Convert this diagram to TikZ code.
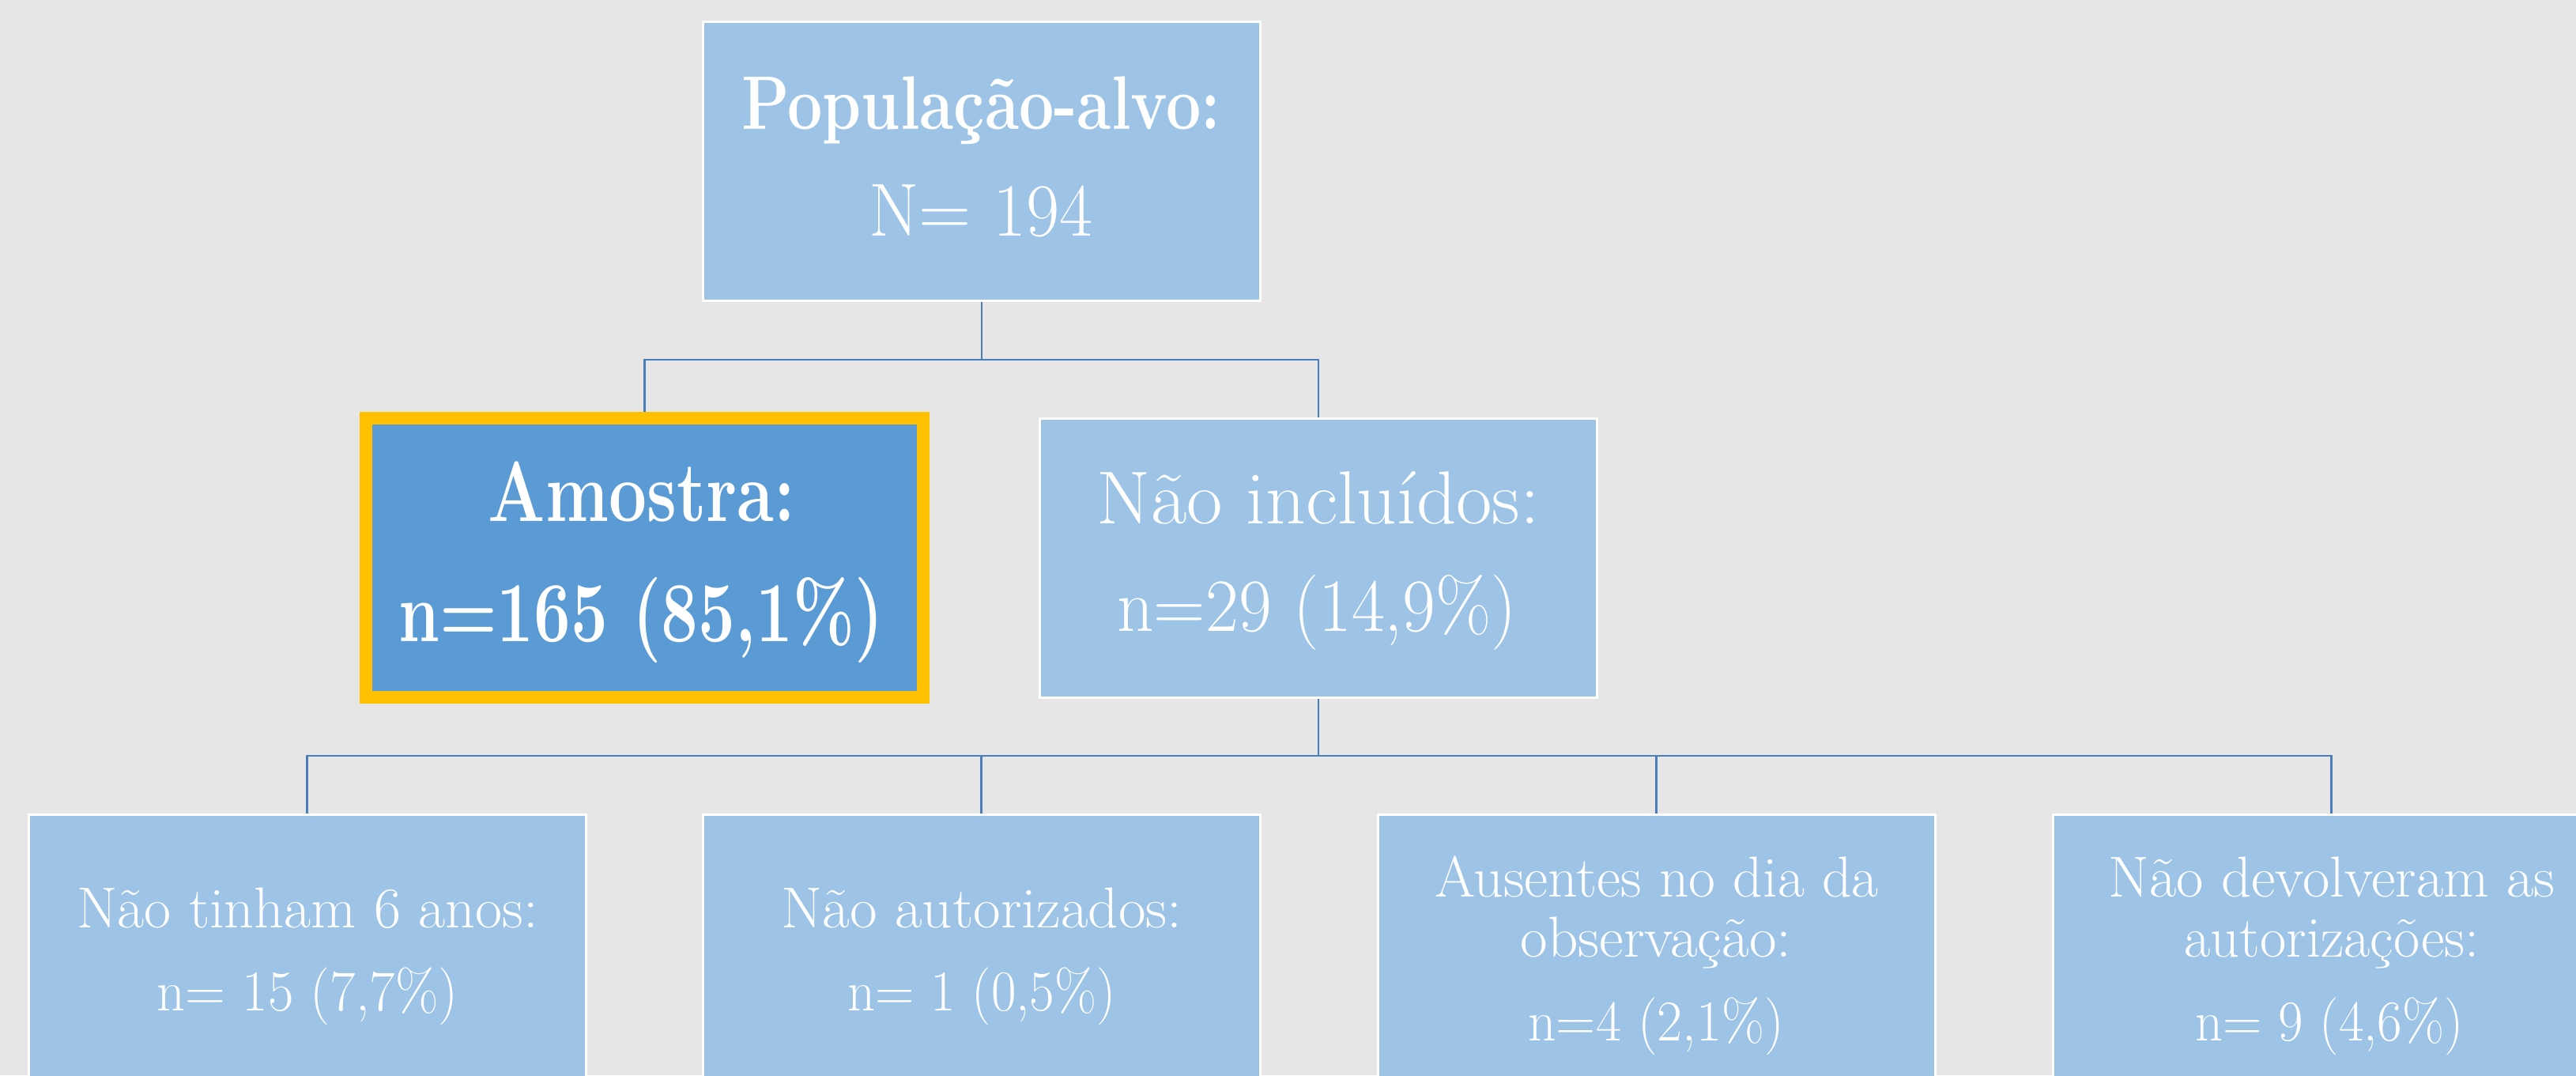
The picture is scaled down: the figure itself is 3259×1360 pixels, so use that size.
\documentclass[tikz,border=0pt]{standalone}
\usepackage{graphicx}
\definecolor{bg}{HTML}{E7E6E6}
\definecolor{lblue}{HTML}{9DC3E6}
\definecolor{mblue}{HTML}{5B9BD5}
\definecolor{gold}{HTML}{FFC000}
\definecolor{connc}{HTML}{4A7EBB}
\newcommand{\sx}[2]{\scalebox{#1}[1]{#2}}
\pgfdeclarelayer{bglayer}
\pgfsetlayers{bglayer,main}
\begin{document}
\begin{tikzpicture}[x=1pt,y=-1pt,
  box/.style={rectangle, draw=white, line width=3pt, fill=lblue, minimum width=705pt, minimum height=353pt, inner sep=0pt, outer sep=0pt},
  hibox/.style={box, draw=gold, line width=16pt, fill=mblue},
  connline/.style={draw=connc, line width=2.5pt},
  txtL/.style={text=white, anchor=base, inner sep=0pt, font=\fontsize{95}{100}\selectfont},
  txtB/.style={txtL, font=\fontsize{96}{100}\selectfont\bfseries},
  txtH/.style={txtL, font=\fontsize{108}{110}\selectfont\bfseries},
  txtS/.style={txtL, font=\fontsize{73}{80}\selectfont}]

\useasboundingbox (0,0) rectangle (3259,1360);

% boxes
\node[box] (top) at (1242,203.5) {};
\node[hibox] (amo) at (815.5,705.5) {};
\node[box] (nao) at (1668,705.5) {};
\node[box] (b1) at (388.5,1206.5) {};
\node[box] (b2) at (1241.5,1206.5) {};
\node[box] (b3) at (2095.5,1206.5) {};
\node[box] (b4) at (2949.5,1206.5) {};

% texts
\node[txtB] (t1) at (1241,163) {\sx{0.82}{População-alvo:}};
\node[txtL] (t2) at (1241,298) {\sx{0.965}{N= 194}};

\node[txtH] (a1) at (812,659) {\sx{0.79}{Amostra:}};
\node[txtH] (a2) at (811,811) {\sx{0.77}{n=165 (85,1\%)}};

\node[txtL] (n1) at (1668,662) {\sx{1.04}{Não incluídos:}};
\node[txtL] (n2) at (1666,798) {\sx{0.957}{n=29 (14,9\%)}};

\node[txtS] (c1) at (389,1173) {\sx{1.015}{Não tinham 6 anos:}};
\node[txtS] (c2) at (389,1278) {\sx{0.966}{n= 15 (7,7\%)}};

\node[txtS] (d1) at (1242,1173) {\sx{1.03}{Não autorizados:}};
\node[txtS] (d2) at (1242,1278) {\sx{0.94}{n= 1 (0,5\%)}};

\node[txtS] (e1) at (2096,1134) {\sx{1.01}{Ausentes no dia da}};
\node[txtS] (e2) at (2095,1210) {\sx{1.03}{observação:}};
\node[txtS] (e3) at (2095,1316) {\sx{0.955}{n=4 (2,1\%)}};

\node[txtS] (f1) at (2950,1134) {\sx{1.023}{Não devolveram as}};
\node[txtS] (f2) at (2950,1210) {\sx{0.99}{autorizações:}};
\node[txtS] (f3) at (2947,1316) {\sx{0.94}{n= 9 (4,6\%)}};

% background and connectors
\begin{pgfonlayer}{bglayer}
\fill[bg] (0,0) rectangle (3259,1360);
\draw[connline] (top.south) -- ++(0,75) -| (amo.north);
\draw[connline] (top.south) -- ++(0,75) -| (nao.north);
\draw[connline] (nao.south) -- ++(0,74) -| (b1.north);
\draw[connline] (nao.south) -- ++(0,74) -| (b2.north);
\draw[connline] (nao.south) -- ++(0,74) -| (b3.north);
\draw[connline] (nao.south) -- ++(0,74) -| (b4.north);
\end{pgfonlayer}
\end{tikzpicture}
\end{document}
